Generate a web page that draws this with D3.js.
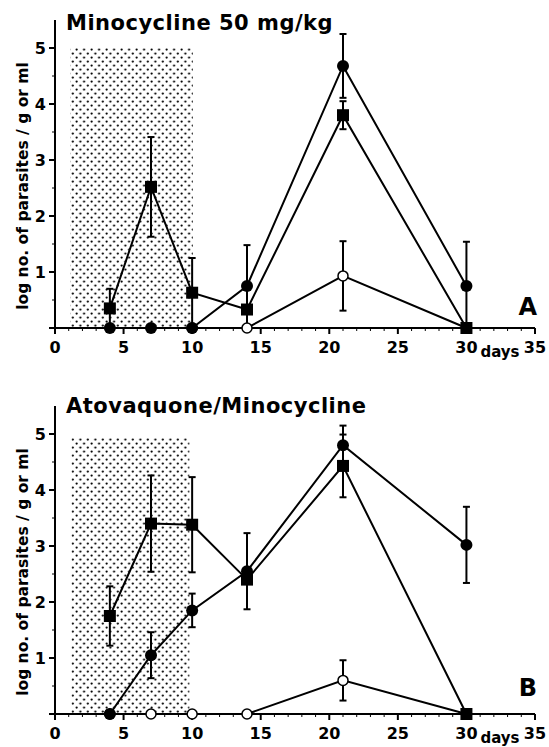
<!DOCTYPE html>
<html>
<head>
<meta charset="utf-8">
<script src="https://cdn.jsdelivr.net/npm/d3@7"></script>
<style>
  body { margin: 0; background: #fff; }
  text { font-family: "DejaVu Sans", Arial, sans-serif; font-weight: bold; fill: #000; }
</style>
</head>
<body>
<script>
var width = 549,
    height = 747;

// shared axis settings
var xTicks = [0, 5, 10, 15, 20, 25, 30, 35];
var yTicks = [1, 2, 3, 4, 5];

// panel A: Minocycline 50 mg/kg
var daysA = [4, 7, 10, 14, 21, 30];
var circlesA = [0, 0, 0, 0.75, 4.68, 0.75];
var circlesErrA = [0, 0, 0, 0.73, 0.57, 0.79];
var squaresA = [0.35, 2.52, 0.63, 0.33, 3.8, 0];
var squaresErrA = [0.35, 0.89, 0.62, 0, 0.25, 0];
var openDaysA = [10, 14, 21, 30];
var openA = [0, 0, 0.93, 0];
var openErrA = [0, 0, 0.62, 0];

// panel B: Atovaquone/Minocycline
var daysB = [4, 7, 10, 14, 21, 30];
var circlesB = [0, 1.05, 1.85, 2.55, 4.8, 3.02];
var circlesErrB = [0, 0.41, 0.3, 0.68, 0.35, 0.68];
var squaresB = [1.75, 3.4, 3.38, 2.4, 4.43, 0];
var squaresErrB = [0.53, 0.86, 0.85, 0, 0.56, 0];
var openDaysB = [4, 7, 10, 14, 21, 30];
var openB = [0, 0, 0, 0, 0.6, 0];
var openErrB = [0, 0, 0, 0, 0.36, 0];

var panels = [
  { title: "Minocycline 50 mg/kg", letter: "A", top: 0, titleY: 30, letterY: 315,
    shade: [1.1, 10.05, 5.0],
    days: daysA, circles: circlesA, circlesErr: circlesErrA,
    squares: squaresA, squaresErr: squaresErrA,
    openDays: openDaysA, open: openA, openErr: openErrA },
  { title: "Atovaquone/Minocycline", letter: "B", top: 386, titleY: 27, letterY: 310,
    shade: [1.2, 9.8, 4.93],
    days: daysB, circles: circlesB, circlesErr: circlesErrB,
    squares: squaresB, squaresErr: squaresErrB,
    openDays: openDaysB, open: openB, openErr: openErrB }
];

var svg = d3.select("body").append("svg")
    .attr("width", width)
    .attr("height", height);

var defs = svg.append("defs");
var dots = defs.append("pattern")
    .attr("id", "dots")
    .attr("patternUnits", "userSpaceOnUse")
    .attr("width", 7.5)
    .attr("height", 8);
dots.append("circle").attr("cx", 1.6).attr("cy", 1.6).attr("r", 1.1).attr("fill", "#000");
dots.append("circle").attr("cx", 5.35).attr("cy", 5.6).attr("r", 1.1).attr("fill", "#000");

var x = d3.scaleLinear().domain([0, 35]).range([55, 535]);

panels.forEach(function (p) {
    var g = svg.append("g").attr("transform", "translate(0," + p.top + ")");
    var y = d3.scaleLinear().domain([0, 5]).range([328, 48]);

    // shaded treatment period
    g.append("rect")
        .attr("x", x(p.shade[0]))
        .attr("y", y(p.shade[2]))
        .attr("width", x(p.shade[1]) - x(p.shade[0]))
        .attr("height", y(0) - y(p.shade[2]))
        .attr("fill", "url(#dots)");

    // x axis
    g.append("line")
        .attr("x1", x(0)).attr("x2", x(35))
        .attr("y1", y(0)).attr("y2", y(0))
        .attr("stroke", "#000").attr("stroke-width", 2);
    g.selectAll(".xminor")
        .data(d3.range(0, 36))
        .enter().append("line")
        .attr("x1", function (d) { return x(d); })
        .attr("x2", function (d) { return x(d); })
        .attr("y1", y(0))
        .attr("y2", function (d) { return y(0) + (d % 5 == 0 ? 6 : 3); })
        .attr("stroke", "#000")
        .attr("stroke-width", function (d) { return d % 5 == 0 ? 2 : 1; });
    g.selectAll(".xlabel")
        .data(xTicks)
        .enter().append("text")
        .attr("x", function (d) { return x(d); })
        .attr("y", y(0) + 25)
        .attr("text-anchor", "middle")
        .style("font-size", "16px")
        .text(function (d) { return d; });
    g.append("text")
        .attr("x", x(30) + 14)
        .attr("y", y(0) + 29)
        .style("font-size", "15px")
        .text("days");

    // y axis
    g.append("line")
        .attr("x1", x(0)).attr("x2", x(0))
        .attr("y1", y(0)).attr("y2", y(5.5))
        .attr("stroke", "#000").attr("stroke-width", 2);
    g.selectAll(".ytick")
        .data(d3.range(0, 11).map(function (d) { return d / 2; }))
        .enter().append("line")
        .attr("x1", x(0))
        .attr("x2", function (d) { return x(0) - (d % 1 == 0 ? 6 : 3); })
        .attr("y1", function (d) { return y(d); })
        .attr("y2", function (d) { return y(d); })
        .attr("stroke", "#000")
        .attr("stroke-width", function (d) { return d % 1 == 0 ? 2 : 1; });
    g.selectAll(".ylabel")
        .data(yTicks)
        .enter().append("text")
        .attr("x", x(0) - 9)
        .attr("y", function (d) { return y(d) + 6; })
        .attr("text-anchor", "end")
        .style("font-size", "16px")
        .text(function (d) { return d; });
    g.append("text")
        .attr("transform", "translate(28," + 186 + ") rotate(-90)")
        .attr("text-anchor", "middle")
        .style("font-size", "15.5px")
        .text("log no. of parasites / g or ml");

    g.append("text")
        .attr("x", 66).attr("y", p.titleY)
        .style("font-size", "21px")
        .style("letter-spacing", "0.5px")
        .text(p.title);
    g.append("text")
        .attr("x", 537).attr("y", p.letterY)
        .attr("text-anchor", "end")
        .style("font-size", "24px")
        .text(p.letter);

    var line = d3.line()
        .x(function (d) { return x(d[0]); })
        .y(function (d) { return y(d[1]); });

    function series(days, vals, errs) {
        return days.map(function (d, i) { return [d, vals[i], errs[i]]; });
    }
    var sq = series(p.days, p.squares, p.squaresErr);
    var ci = series(p.days, p.circles, p.circlesErr);
    var op = series(p.openDays, p.open, p.openErr);

    [op, sq, ci].forEach(function (s) {
        g.append("path")
            .attr("d", line(s))
            .attr("fill", "none")
            .attr("stroke", "#000")
            .attr("stroke-width", 2);
        var eb = g.selectAll(null)
            .data(s.filter(function (d) { return d[2] > 0; }))
            .enter().append("g");
        eb.append("line")
            .attr("x1", function (d) { return x(d[0]); })
            .attr("x2", function (d) { return x(d[0]); })
            .attr("y1", function (d) { return y(Math.max(0, d[1] - d[2])); })
            .attr("y2", function (d) { return y(d[1] + d[2]); })
            .attr("stroke", "#000").attr("stroke-width", 2);
        [1, -1].forEach(function (sgn) {
            eb.append("line")
                .attr("x1", function (d) { return x(d[0]) - 3.5; })
                .attr("x2", function (d) { return x(d[0]) + 3.5; })
                .attr("y1", function (d) { return y(Math.max(0, d[1] + sgn * d[2])); })
                .attr("y2", function (d) { return y(Math.max(0, d[1] + sgn * d[2])); })
                .attr("stroke", "#000").attr("stroke-width", 2);
        });
    });

    g.selectAll(null)
        .data(op)
        .enter().append("circle")
        .attr("cx", function (d) { return x(d[0]); })
        .attr("cy", function (d) { return y(d[1]); })
        .attr("r", 5)
        .attr("fill", "#fff")
        .attr("stroke", "#000")
        .attr("stroke-width", 1.5);
    g.selectAll(null)
        .data(sq)
        .enter().append("rect")
        .attr("x", function (d) { return x(d[0]) - 6; })
        .attr("y", function (d) { return y(d[1]) - 6; })
        .attr("width", 12)
        .attr("height", 12)
        .attr("fill", "#000");
    g.selectAll(null)
        .data(ci)
        .enter().append("circle")
        .attr("cx", function (d) { return x(d[0]); })
        .attr("cy", function (d) { return y(d[1]); })
        .attr("r", 6)
        .attr("fill", "#000");
});
</script>
</body>
</html>
